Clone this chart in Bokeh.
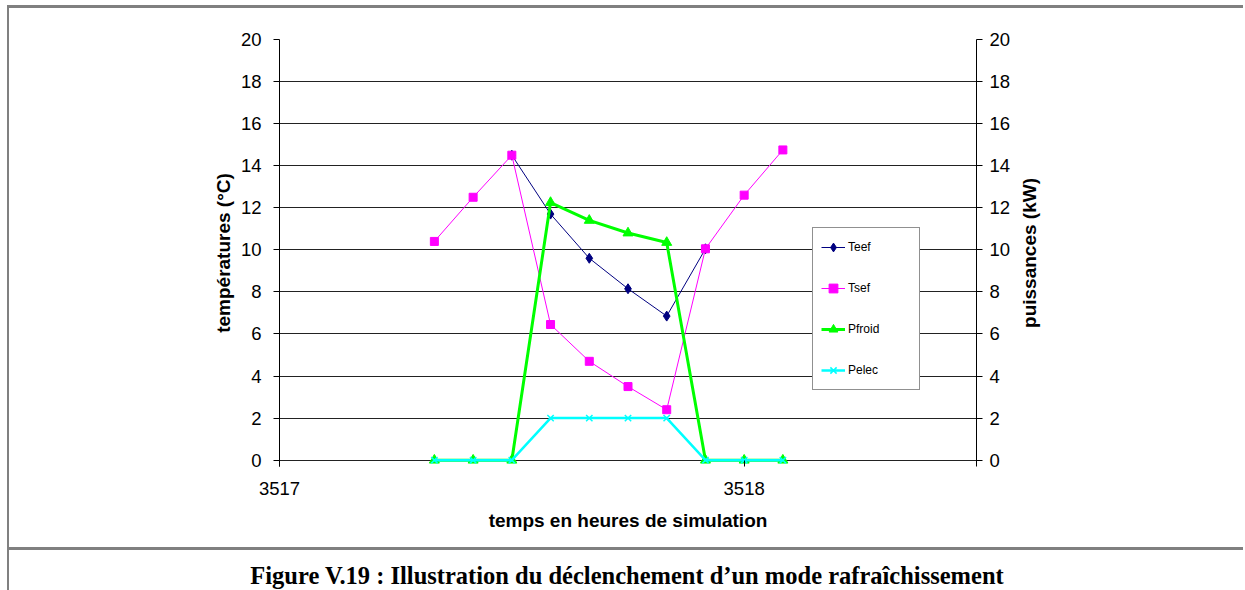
import math
from bokeh.plotting import figure
from bokeh.models import LinearAxis, Range1d, FixedTicker, Div, NumeralTickFormatter
from bokeh.layouts import column, row
from bokeh.embed import file_html
from bokeh.resources import INLINE

nan = float("nan")

# time (hours of simulation), 5-minute steps
temps = [3517.3333, 3517.4167, 3517.5, 3517.5833, 3517.6667,
         3517.75, 3517.8333, 3517.9167, 3518.0, 3518.0833]
teef = [nan, nan, 14.5, 11.7, 9.6, 8.15, 6.85, 10.05, nan, nan]
tsef = [10.4, 12.5, 14.5, 6.45, 4.7, 3.5, 2.4, 10.05, 12.6, 14.75]
pfroid = [0, 0, 0, 12.25, 11.4, 10.8, 10.35, 0, 0, 0]
pelec = [0, 0, 0, 2, 2, 2, 2, 0, 0, 0]

x_ticks = [3517, 3518]
y_ticks = [0, 2, 4, 6, 8, 10, 12, 14, 16, 18, 20]

FONT = "Liberation Sans"
BORDER = {"border-top": "3px solid #808080", "border-bottom": "3px solid #808080"}

p = figure(width=1006, height=545,
           x_range=Range1d(3517, 3518.5), y_range=Range1d(-0.3, 20),
           output_backend="svg", toolbar_location=None,
           min_border_left=270, min_border_right=39,
           min_border_top=31, min_border_bottom=87,
           background_fill_color="white", border_fill_color="white",
           styles=BORDER)
p.outline_line_color = None
p.extra_y_ranges = {"pw": Range1d(-0.3, 20)}
p.add_layout(LinearAxis(y_range_name="pw"), "right")

p.xaxis.axis_label = "temps en heures de simulation"
p.yaxis[0].axis_label = "températures (°C)"

for ax in p.xaxis + p.yaxis:
    ax.axis_line_color = "black"
    ax.major_tick_line_color = "black"
    ax.major_tick_in = 0
    ax.major_tick_out = 6
    ax.minor_tick_line_color = None
    ax.major_label_text_font = FONT
    ax.major_label_text_font_size = "18.5px"
    ax.major_label_text_color = "black"
    ax.axis_label_text_font = FONT
    ax.axis_label_text_font_style = "bold"
    ax.axis_label_text_font_size = "19px"
    ax.axis_label_text_color = "black"

p.xaxis.ticker = FixedTicker(ticks=x_ticks)
p.xaxis.formatter = NumeralTickFormatter(format="0")
p.xaxis.axis_line_color = None
p.xaxis.major_tick_in = 6
p.xaxis.major_tick_out = 0
p.xaxis.major_label_standoff = 15
p.xaxis.axis_label_standoff = 12
for ax in p.yaxis:
    ax.ticker = FixedTicker(ticks=y_ticks)
p.yaxis[0].major_label_standoff = 12
p.yaxis[0].axis_label_standoff = 4
p.yaxis[1].major_label_standoff = 7

p.xgrid.visible = False
p.ygrid.ticker = FixedTicker(ticks=y_ticks)
p.ygrid.grid_line_color = "#222222"
p.ygrid.grid_line_width = 1

p.line(temps, teef, color="#000080", line_width=1, legend_label="Teef")
p.scatter(temps, teef, marker="diamond", size=10, color="#000080", legend_label="Teef")
p.line(temps, tsef, color="#FF00FF", line_width=1, legend_label="Tsef")
p.scatter(temps, tsef, marker="square", size=8, color="#FF00FF", legend_label="Tsef")
p.line(temps, pfroid, color="#00FF00", line_width=3, y_range_name="pw", legend_label="Pfroid")
p.scatter(temps, pfroid, marker="triangle", size=10, color="#00FF00", y_range_name="pw", legend_label="Pfroid")
p.line(temps, pelec, color="#00FFFF", line_width=2.5, y_range_name="pw", legend_label="Pelec")
p.scatter(temps, pelec, marker="x", size=9, line_width=1.5, color="#00FFFF", y_range_name="pw", legend_label="Pelec")

lg = p.legend[0]
lg.location = (533, 76)
lg.border_line_color = "#222222"
lg.border_line_width = 1
lg.background_fill_color = "white"
lg.background_fill_alpha = 1
lg.label_text_font = FONT
lg.label_text_font_size = "12px"
lg.label_text_color = "black"
lg.padding = 8
lg.spacing = 19
lg.glyph_height = 22
lg.label_height = 22
lg.glyph_width = 24
lg.label_standoff = 3
lg.label_width = 63
lg.margin = 0

# narrow companion figure carrying the right-hand axis title (reads bottom-to-top)
p2 = figure(width=228, height=545,
            x_range=Range1d(0, 1), y_range=Range1d(-0.3, 20),
            output_backend="svg", toolbar_location=None,
            min_border_left=26, min_border_right=0,
            min_border_top=31, min_border_bottom=87,
            background_fill_color="white", border_fill_color="white",
            styles=BORDER)
p2.outline_line_color = None
p2.grid.visible = False
p2.xaxis.visible = False
ax2 = p2.yaxis[0]
ax2.ticker = FixedTicker(ticks=[])
ax2.axis_line_color = None
ax2.major_tick_line_color = None
ax2.minor_tick_line_color = None
ax2.axis_label = "puissances (kW)"
ax2.axis_label_text_font = FONT
ax2.axis_label_text_font_style = "bold"
ax2.axis_label_text_font_size = "19px"
ax2.axis_label_text_color = "black"
ax2.axis_label_standoff = 2

caption = Div(
    text=('<div style="font-family:\'Liberation Serif\';font-weight:bold;'
          'font-size:24.5px;line-height:26px;text-align:center;padding-top:8px;'
          'width:1226px;color:black;white-space:nowrap;">'
          'Figure V.19 : Illustration du déclenchement d\u2019un mode rafraîchissement</div>'),
    width=1234, height=34,
    styles={"overflow": "hidden"})

layout = column(row(p, p2, spacing=0), caption, spacing=0,
                styles={"margin-top": "5px", "margin-left": "7px",
                        "border-left": "2px solid #808080"})
open("out.html", "w").write(file_html(layout, INLINE))
